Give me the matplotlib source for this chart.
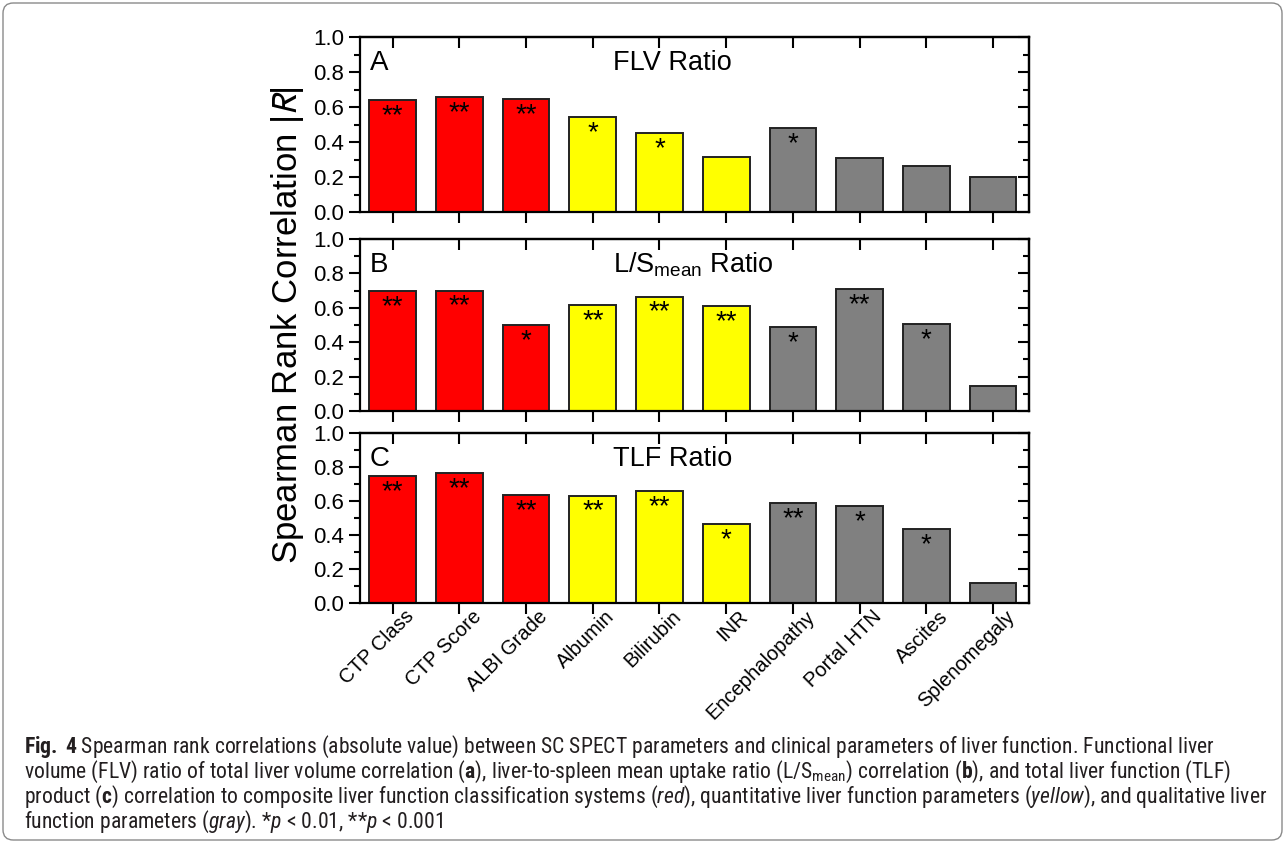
import matplotlib
matplotlib.use("Agg")
import matplotlib.pyplot as plt
from matplotlib.font_manager import fontManager
from matplotlib.patches import FancyBboxPatch
from matplotlib.ticker import MultipleLocator
from matplotlib.transforms import ScaledTranslation

categories = ["CTP Class", "CTP Score", "ALBI Grade", "Albumin", "Bilirubin", "INR",
              "Encephalopathy", "Portal HTN", "Ascites", "Splenomegaly"]
groups = ["red", "red", "red", "yellow", "yellow", "yellow", "gray", "gray", "gray", "gray"]

flv = [0.638, 0.655, 0.646, 0.543, 0.450, 0.313, 0.478, 0.310, 0.265, 0.200]
flv_sig = ["**", "**", "**", "*", "*", "", "*", "", "", ""]

ls_mean = [0.696, 0.700, 0.500, 0.614, 0.665, 0.609, 0.490, 0.709, 0.504, 0.147]
ls_mean_sig = ["**", "**", "*", "**", "**", "**", "*", "**", "*", ""]

tlf = [0.748, 0.764, 0.636, 0.632, 0.658, 0.463, 0.587, 0.571, 0.437, 0.116]
tlf_sig = ["**", "**", "**", "**", "**", "*", "**", "*", "*", ""]

colors = {"red": "#FF0000", "yellow": "#FFFF00", "gray": "#808080"}

# narrow font for the caption if one is installed
installed = {f.name for f in fontManager.ttflist}
caption_font = next(f for f in ["Liberation Sans Narrow", "DejaVu Sans Condensed",
                                 "Roboto Condensed", "Liberation Sans", "DejaVu Sans"]
                    if f in installed)

plt.rcParams["font.family"] = ["Liberation Sans", "DejaVu Sans"]
plt.rcParams["mathtext.fontset"] = "custom"
plt.rcParams["mathtext.rm"] = caption_font
plt.rcParams["mathtext.it"] = caption_font + ":italic"
plt.rcParams["mathtext.bf"] = caption_font + ":bold"

W, H = 1285, 843
fig = plt.figure(figsize=(W / 100, H / 100), dpi=100)

panels = [
    ("A", "FLV Ratio", flv, flv_sig, 37, 212),
    ("B", r"L/S$_{\mathregular{mean}}$ Ratio", ls_mean, ls_mean_sig, 239, 411),
    ("C", "TLF Ratio", tlf, tlf_sig, 433, 603),
]
left, right = 360, 1029
x = list(range(len(categories)))
bar_colors = [colors[g] for g in groups]

for i, (letter, title, vals, sig, top, bottom) in enumerate(panels):
    ax = fig.add_axes([left / W, 1 - bottom / H, (right - left) / W, (bottom - top) / H])
    ax.bar(x, vals, width=0.7, color=bar_colors, edgecolor="#222222", linewidth=1.4, zorder=2)
    for xi, v, s in zip(x, vals, sig):
        if s:
            ax.annotate(s, (xi, v), xytext=(0, -23), textcoords="offset pixels",
                        ha="center", va="baseline", fontsize=20, zorder=3)
    ax.set_xlim(-0.49, 9.54)
    ax.set_ylim(0, 1.0)
    ax.yaxis.set_major_locator(MultipleLocator(0.2))
    ax.yaxis.set_minor_locator(MultipleLocator(0.1))
    ax.set_xticks(x)
    ax.tick_params(axis="both", which="major", direction="out", length=8, width=1.5,
                   labelsize=16, top=False, right=False)
    ax.tick_params(axis="y", which="minor", direction="out", length=4, width=1.5, right=False)
    ax.tick_params(axis="x", which="minor", bottom=False, top=False)
    for sp in ax.spines.values():
        sp.set_linewidth(1.6)
    if i < 2:
        ax.set_xticklabels([])
    else:
        ax.set_xticklabels(categories, rotation=45, ha="right", va="top",
                           rotation_mode="anchor", fontsize=14.5)
        shift = ScaledTranslation(12 / 100, 12 / 100, fig.dpi_scale_trans)
        for lbl in ax.get_xticklabels():
            lbl.set_transform(lbl.get_transform() + shift)

    sec_y = ax.secondary_yaxis("right")
    sec_y.yaxis.set_major_locator(MultipleLocator(0.2))
    sec_y.yaxis.set_minor_locator(MultipleLocator(0.1))
    sec_y.tick_params(which="major", direction="in", length=8, width=1.5, labelright=False)
    sec_y.tick_params(which="minor", direction="in", length=4, width=1.5)
    sec_y.spines["right"].set_linewidth(1.6)

    sec_x = ax.secondary_xaxis("top")
    sec_x.set_xticks(x)
    sec_x.tick_params(which="major", direction="in", length=8, width=1.5, labeltop=False)
    sec_x.tick_params(which="minor", top=False)
    sec_x.spines["top"].set_linewidth(1.6)

    ax.text(0.015, 0.85, letter, transform=ax.transAxes, fontsize=20, va="center", ha="left")
    ax.text(3.3, 0.85, title, transform=ax.get_xaxis_transform(), fontsize=19.5,
            va="center", ha="left")

fig.text(287 / W, 1 - 325 / H, r"Spearman Rank Correlation |$\mathit{R}$|", rotation=90,
         ha="center", va="center", fontsize=25, math_fontfamily="stixsans")

caption = [
    r"$\mathbf{Fig.}$ $\mathbf{4}$ Spearman rank correlations (absolute value) between SC SPECT parameters and clinical parameters of liver function. Functional liver",
    r"volume (FLV) ratio of total liver volume correlation ($\mathbf{a}$), liver-to-spleen mean uptake ratio (L/S$_{\mathregular{mean}}$) correlation ($\mathbf{b}$), and total liver function (TLF)",
    r"product ($\mathbf{c}$) correlation to composite liver function classification systems ($\mathit{red}$), quantitative liver function parameters ($\mathit{yellow}$), and qualitative liver",
    r"function parameters ($\mathit{gray}$). *$\mathit{p}$ < 0.01, **$\mathit{p}$ < 0.001",
]
caption_y = [747, 772, 797, 822]
caption_texts = [fig.text(24 / W, 1 - yy / H, line, ha="left", va="center", fontsize=13,
                          color="#231f20", family=caption_font)
                 for line, yy in zip(caption, caption_y)]

# size the caption so every line stays inside the frame
renderer = fig.canvas.get_renderer()
widest = max(t.get_window_extent(renderer).width for t in caption_texts)
caption_size = min(18.0, 13 * (1268 - 24) / widest)
for t in caption_texts:
    t.set_fontsize(caption_size)

border = FancyBboxPatch((3 / W, 3 / H), 1 - 6 / W, 1 - 6 / H,
                        boxstyle="round,pad=0,rounding_size=0.008", mutation_aspect=W / H,
                        transform=fig.transFigure, fill=False, edgecolor="#8a8a8a", linewidth=1.0)
fig.patches.append(border)

fig.savefig("out.png", dpi=100)
